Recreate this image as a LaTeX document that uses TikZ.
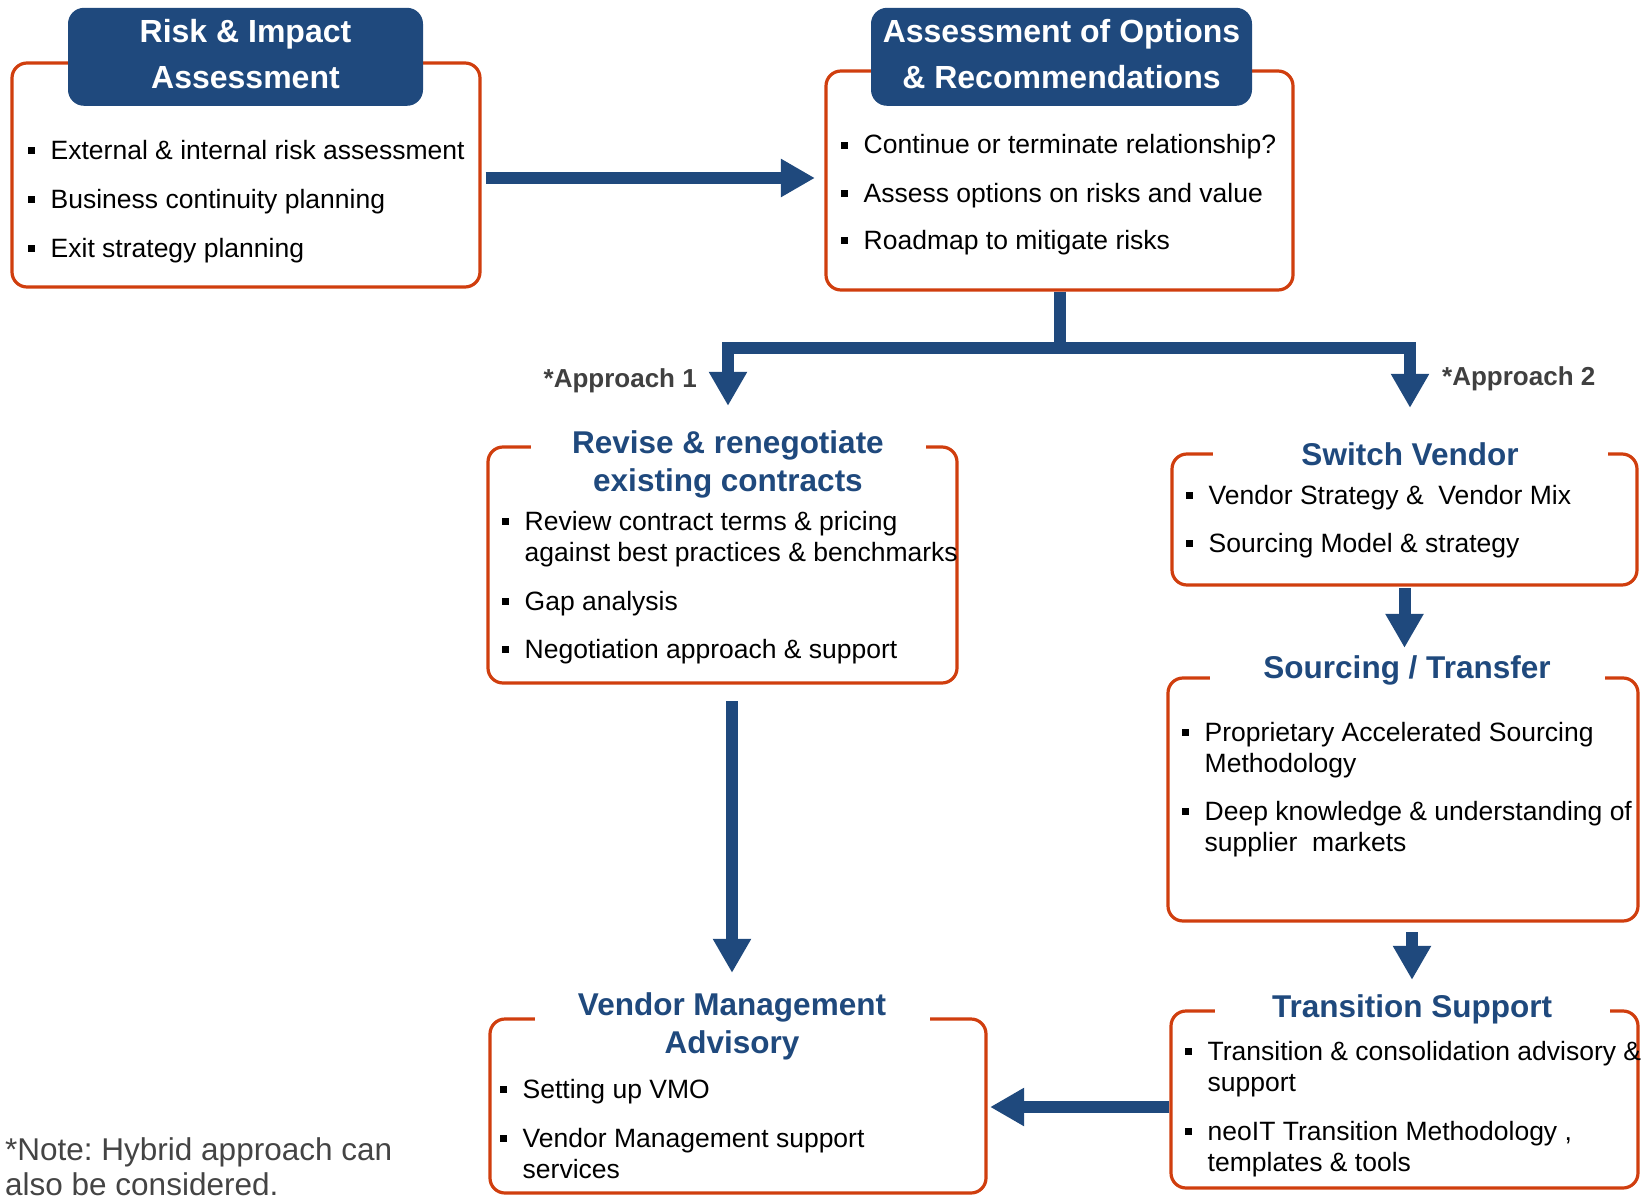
\documentclass[tikz,border=0pt]{standalone}
\usepackage{fontspec}
\setmainfont{Liberation Sans}
\frenchspacing
\usetikzlibrary{arrows.meta,positioning}
\definecolor{cBlue}{RGB}{31,73,125}
\definecolor{cOrange}{RGB}{208,62,14}
\definecolor{cLabel}{RGB}{64,64,64}
\definecolor{cNote}{RGB}{68,68,68}
\newcommand\bodyfont{\fontsize{26.5}{31.5}\selectfont}
\newcommand\headfont{\fontsize{32}{46}\selectfont\bfseries}
\newcommand\subheadfont{\fontsize{31.5}{38.5}\selectfont\bfseries}
\newcommand\sqitem[1]{\rule[5.5pt]{7pt}{7pt}\hspace{15.5pt}\begin{tabular}[t]{@{}l@{}}#1\end{tabular}}
\newcommand\hdlines[1]{\begin{tabular}[t]{@{}c@{}}#1\end{tabular}}
\tikzset{
  orbox/.style={rectangle,draw=cOrange,line width=3.2pt,
                rounded corners=15pt,inner sep=0pt},
  bluehead/.style={rectangle,fill=cBlue,rounded corners=16pt,text=white,
                   font=\headfont,minimum height=98pt,inner sep=0pt,anchor=base},
  gaphead/.style={rectangle,fill=white,text=cBlue,font=\subheadfont,
                  minimum width=395pt,inner sep=0pt,anchor=base},
  itm/.style={anchor=base west,inner sep=0pt,font=\bodyfont,text=black},
  apprlbl/.style={inner sep=0pt,font=\fontsize{26}{31}\selectfont\bfseries,
                  text=cLabel},
  fatarr/.style={draw=cBlue,line width=12pt,line join=miter,
                 -{Triangle[width=36pt,length=34pt]}}
}
\begin{document}
\begin{tikzpicture}[x=1pt,y=-1pt]
  \useasboundingbox (0,0) rectangle (1642,1196);

  \node[orbox,minimum width=468pt,minimum height=224pt] (riskbox) at (246,175) {};
  \node[orbox,minimum width=467pt,minimum height=219pt] (optbox) at (1059.5,180.5) {};
  \node[orbox,minimum width=469pt,minimum height=236pt] (revbox) at (722.5,565) {};
  \node[orbox,minimum width=465pt,minimum height=131pt] (swbox) at (1404.5,519.5) {};
  \node[orbox,minimum width=470pt,minimum height=243pt] (srcbox) at (1403,799.5) {};
  \node[orbox,minimum width=467pt,minimum height=177pt] (trbox) at (1404.5,1099.5) {};
  \node[orbox,minimum width=496pt,minimum height=174pt] (vmabox) at (738,1106) {};

  \node[bluehead,minimum width=355pt] (risktitle) at (245.5,43)
      {\hdlines{Risk \& Impact\\Assessment}};
  \node[bluehead,minimum width=381pt] (opttitle) at (1061.5,43)
      {\hdlines{Assessment of Options\\\& Recommendations}};
  \node[gaphead] (revtitle) at (728,453)
      {\hdlines{Revise \& renegotiate\\existing contracts}};
  \node[gaphead] (swtitle) at (1410,465) {\hdlines{Switch Vendor}};
  \node[gaphead] (srctitle) at (1407,678) {\hdlines{Sourcing / Transfer}};
  \node[gaphead] (trtitle) at (1412,1017) {\hdlines{Transition Support}};
  \node[gaphead] (vmatitle) at (732,1015)
      {\hdlines{Vendor Management\\Advisory}};

  \node[itm] (risk1) at (28,160) {\sqitem{External \& internal risk assessment}};
  \node[itm] (risk2) at (28,208) {\sqitem{Business continuity planning}};
  \node[itm] (risk3) at (28,257) {\sqitem{Exit strategy planning}};
  \node[itm] (opt1) at (841,154) {\sqitem{Continue or terminate relationship?}};
  \node[itm] (opt2) at (841,202) {\sqitem{Assess options on risks and value}};
  \node[itm] (opt3) at (841,249) {\sqitem{Roadmap to mitigate risks}};
  \node[itm] (rev1) at (502,530)
      {\sqitem{Review contract terms \& pricing\\against best practices \& benchmarks}};
  \node[itm] (rev2) at (502,610) {\sqitem{Gap analysis}};
  \node[itm] (rev3) at (502,658) {\sqitem{Negotiation approach \& support}};
  \node[itm] (sw1) at (1186,504) {\sqitem{Vendor Strategy \&\ \ Vendor Mix}};
  \node[itm] (sw2) at (1186,552) {\sqitem{Sourcing Model \& strategy}};
  \node[itm] (src1) at (1182,741)
      {\sqitem{Proprietary Accelerated Sourcing\\Methodology}};
  \node[itm] (src2) at (1182,820)
      {\sqitem{Deep knowledge \& understanding of\\supplier\ \ markets}};
  \node[itm] (tr1) at (1185,1060)
      {\sqitem{Transition \& consolidation advisory \&\\support}};
  \node[itm] (tr2) at (1185,1140)
      {\sqitem{neoIT Transition Methodology ,\\templates \& tools}};
  \node[itm] (vma1) at (500,1098) {\sqitem{Setting up VMO}};
  \node[itm] (vma2) at (500,1147)
      {\sqitem{Vendor Management support\\services}};

  \node[apprlbl,anchor=base east] (appr1) at (697,387) {*Approach 1};
  \node[apprlbl,anchor=base west] (appr2) at (1442,385) {*Approach 2};
  \node[anchor=base west,inner sep=0pt,font=\fontsize{31.5}{35}\selectfont,
        text=cNote] (note) at (5,1160)
      {\begin{tabular}[t]{@{}l@{}}*Note: Hybrid approach can\\also be considered.\end{tabular}};

  \coordinate (fork) at ([yshift=-56pt]optbox.south);

  \draw[fatarr,shorten <=4pt,shorten >=9.5pt] ([yshift=-3pt]riskbox.east)
      -- ([yshift=-3pt]riskbox.east -| optbox.west);
  \draw[fatarr,shorten >=20pt] (optbox.south) -- (fork) -| (revtitle.north);
  \draw[fatarr,shorten >=30pt] (fork) -| (swtitle.north);
  \draw[fatarr,shorten <=16.4pt,shorten >=15pt] (revbox.south -| vmatitle.north)
      -- (vmatitle.north);
  \draw[fatarr,shorten <=1.5pt,shorten >=3pt] (swbox.south)
      -- (swbox.south |- srctitle.north);
  \draw[fatarr,shorten <=9.4pt,shorten >=10pt] (srcbox.south -| trtitle.north)
      -- (trtitle.north);
  \draw[fatarr,shorten >=2.5pt] ([yshift=-7.5pt]trbox.west)
      -- ([yshift=-7.5pt]trbox.west -| vmabox.east);
\end{tikzpicture}
\end{document}
